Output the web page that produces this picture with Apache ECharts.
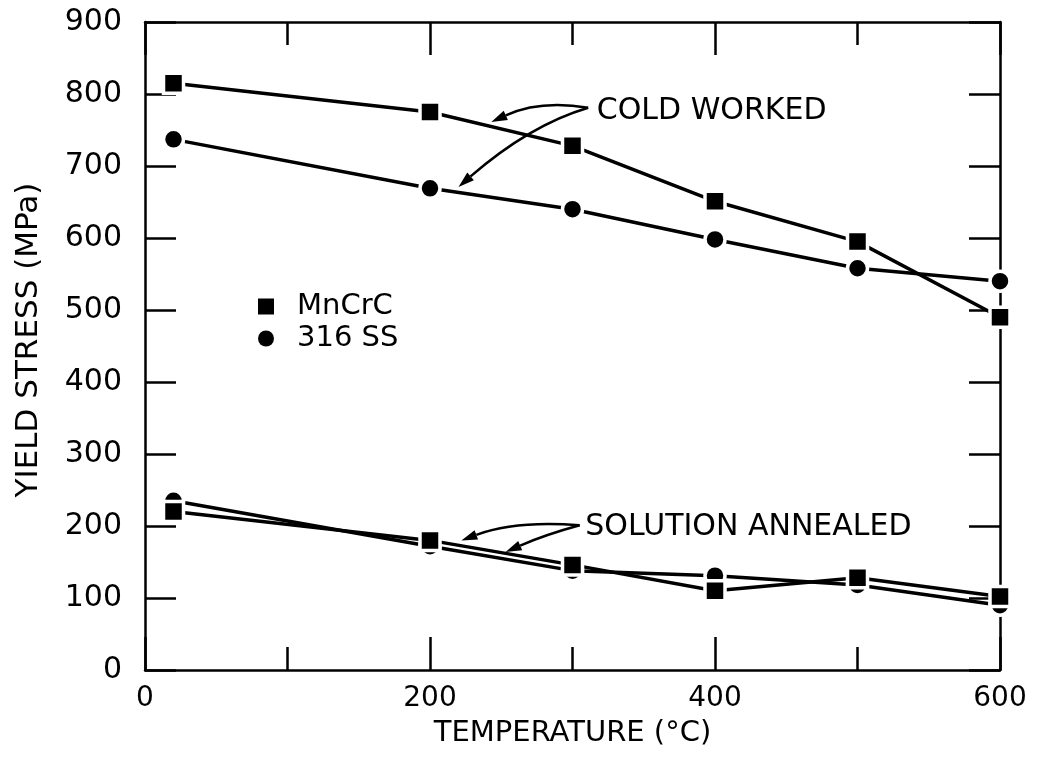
<!DOCTYPE html>
<html>
<head>
<meta charset="utf-8">
<script src="https://cdn.jsdelivr.net/npm/echarts@6/dist/echarts.min.js"></script>
<style>
  html, body { margin: 0; padding: 0; background: #fff; }
  #chart { width: 1038px; height: 771px; }
</style>
</head>
<body>
<div id="chart"></div>
<script>
// temperatures (°C) and yield stress values (MPa)
const tempC = [20, 200, 300, 400, 500, 600];
const mncrcCold = [815, 775, 728, 651, 595, 490];
const ss316Cold = [737, 669, 640, 598, 558, 540];
const mncrcAnnealed = [220, 180, 146, 110, 128, 102];
const ss316Annealed = [235, 172, 138, 131, 118, 90];

// annotation arrows, in data coordinates: [start, control, end]
const coldArrows = [
    [[311, 781], [277, 792], [243, 761]],
    [[311, 781], [270, 757], [220, 671]]
];
const annealArrows = [
    [[305, 201], [260, 208], [222, 180]],
    [[305, 201], [281, 188], [253, 164]]
];
const coldLabel = { text: 'COLD WORKED', at: [317, 776] };
const annealLabel = { text: 'SOLUTION ANNEALED', at: [309, 198] };

const font = 'DejaVu Sans';

function pairs(ys) {
    return tempC.map((t, i) => [t, ys[i]]);
}

let myChart = echarts.init(document.getElementById('chart'));

const tickStyle = { color: '#000', width: 2.5 };
const lineAxis = { show: true, onZero: false, lineStyle: { color: '#000', width: 2.5 } };

function xAx(pos, labels) {
    return {
        type: 'value', position: pos, min: 0, max: 600, interval: 200,
        axisLine: lineAxis,
        axisTick: { inside: true, length: 33, lineStyle: tickStyle },
        minorTick: { show: true, splitNumber: 2, length: 23, lineStyle: tickStyle },
        splitLine: { show: false },
        minorSplitLine: { show: false },
        axisLabel: { show: labels, fontFamily: font, fontSize: 28, color: '#000', margin: 15 },
        name: labels ? 'TEMPERATURE (°C)' : '',
        nameLocation: 'middle', nameGap: 49,
        nameTextStyle: { fontFamily: font, fontSize: 29, color: '#000' }
    };
}

function yAx(pos, labels) {
    return {
        type: 'value', position: pos, min: 0, max: 900, interval: 100,
        axisLine: lineAxis,
        axisTick: { inside: true, length: 31, lineStyle: tickStyle },
        splitLine: { show: false },
        axisLabel: { show: labels, fontFamily: font, fontSize: 30, color: '#000', margin: 23 },
        name: labels ? 'YIELD STRESS (MPa)' : '',
        nameLocation: 'middle', nameGap: 101, nameRotate: 90,
        nameTextStyle: { fontFamily: font, fontSize: 31, color: '#000', padding: [0, 0, 0, 12] }
    };
}

function series(name, ys, symbol) {
    return {
        name: name, type: 'line', data: pairs(ys),
        symbol: symbol, symbolSize: 20,
        itemStyle: { color: '#000', borderColor: '#fff', borderWidth: 3.5 },
        lineStyle: { color: '#000', width: 3.5 },
        z: symbol === 'rect' ? 4 : 3
    };
}

myChart.setOption({
    animation: false,
    backgroundColor: '#fff',
    grid: { left: 145, right: 38, top: 22, bottom: 101, containLabel: false, outerBoundsMode: 'none' },
    xAxis: [xAx('bottom', true), xAx('top', false)],
    yAxis: [yAx('left', true), yAx('right', false)],
    legend: {
        orient: 'vertical', left: 253, top: 287, itemGap: 3,
        itemWidth: 16, itemHeight: 16, selectedMode: false,
        itemStyle: { borderWidth: 0, color: '#000' },
        textStyle: { fontFamily: font, fontSize: 29, color: '#000', padding: [0, 0, 0, 18] },
        data: [{ name: 'MnCrC', icon: 'rect' }, { name: '316 SS', icon: 'circle' }]
    },
    series: [
        series('316 SS', ss316Cold, 'circle'),
        series('316 SS', ss316Annealed, 'circle'),
        series('MnCrC', mncrcCold, 'rect'),
        series('MnCrC', mncrcAnnealed, 'rect')
    ]
});

// annotation arrows and labels, placed through the chart's own scales
function px(p) {
    return myChart.convertToPixel({ gridIndex: 0 }, p);
}

function arrow(a) {
    const s = px(a[0]), c = px(a[1]), e = px(a[2]);
    const dx = e[0] - c[0], dy = e[1] - c[1];
    const len = Math.sqrt(dx * dx + dy * dy);
    const ux = dx / len, uy = dy / len;
    const hl = 16, hw = 5;
    const bx = e[0] - ux * hl, by = e[1] - uy * hl;
    return [
        {
            type: 'bezierCurve', z: 10,
            shape: { x1: s[0], y1: s[1], cpx1: c[0], cpy1: c[1], x2: bx, y2: by },
            style: { stroke: '#000', lineWidth: 2.5, fill: null }
        },
        {
            type: 'polygon', z: 10,
            shape: { points: [e, [bx - uy * hw, by + ux * hw], [bx + uy * hw, by - ux * hw]] },
            style: { fill: '#000' }
        }
    ];
}

function label(l) {
    const p = px(l.at);
    return {
        type: 'text', x: p[0], y: p[1], z: 10,
        style: {
            text: l.text, font: '30px "DejaVu Sans"', fill: '#000',
            align: 'left', verticalAlign: 'middle'
        }
    };
}

let graphics = [];
coldArrows.concat(annealArrows).forEach(a => { graphics = graphics.concat(arrow(a)); });
graphics.push(label(coldLabel), label(annealLabel));
myChart.setOption({ graphic: graphics });

window.addEventListener('resize', function() {
    myChart.resize();
});
</script>
</body>
</html>
